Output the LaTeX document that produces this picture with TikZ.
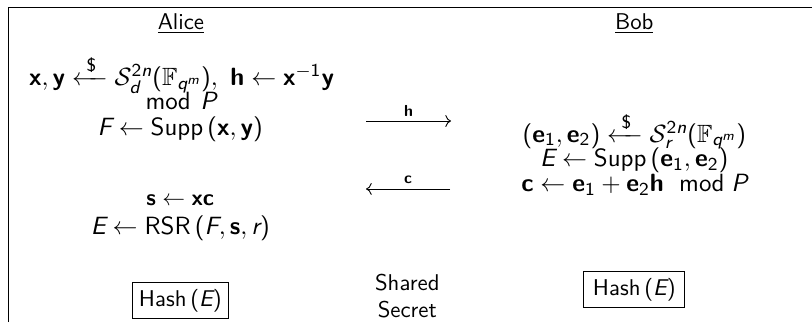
\documentclass[tikz,border=0pt]{standalone}
\usepackage{amsmath}
\usepackage{amssymb}
\renewcommand{\familydefault}{\sfdefault}
% sans serif math
\makeatletter
\DeclareSymbolFont{sfletters}{TU}{lmss}{m}{sl}
\SetSymbolFont{sfletters}{bold}{TU}{lmss}{bx}{sl}
\DeclareSymbolFont{operators}{TU}{lmss}{m}{n}
\SetSymbolFont{operators}{bold}{TU}{lmss}{bx}{n}
\DeclareMathAlphabet{\mathbf}{TU}{lmss}{bx}{n}
\DeclareMathAlphabet{\mathrm}{TU}{lmss}{m}{n}
\@tfor\sfl@tter:=abcdefghijklmnopqrstuvwxyzABCDEFGHIJKLMNOPQRSTUVWXYZ\do{%
    \edef\sfl@do{\noexpand\DeclareMathSymbol{\sfl@tter}{\noexpand\mathalpha}{sfletters}{`\sfl@tter}}%
    \sfl@do}
\makeatother
\usepackage{tikz}
\usetikzlibrary{positioning, arrows.meta, calc}

\begin{document}
\begin{tikzpicture}
    \tikzset{
        party/.style={anchor=center, inner sep=1pt},
        step line/.style={anchor=center, inner sep=0pt, font=\fontsize{10.95}{13.6}\selectfont},
        hash box/.style={draw, thin, inner sep=3pt, anchor=center},
        msg/.style={->, thin}
    }
    \useasboundingbox (0, 0) rectangle (12.52, 4.965);

    % frame (cut at the right and at the bottom)
    \draw[thin] (0.123, 0) -- (0.123, 4.857) -- (12.52, 4.857);

    % parties
    \node[party] (alice) at (2.79, 4.595) {\underline{Alice}};
    \node[party] (bob) at (9.78, 4.595) {\underline{Bob}};

    % Alice
    \node[step line] (keygen) at (2.8, 3.82) {$\mathbf{x},\mathbf{y}\xleftarrow{\;\$\;}\mathcal{S}^{2n}_{d}(\mathbb{F}_{q^m}),\ \mathbf{h}\leftarrow\mathbf{x}^{-1}\mathbf{y}$};
    \node[step line] (modp) at (2.78, 3.41) {$\bmod\ P$};
    \node[step line] (suppF) at (2.78, 2.97) {$F\leftarrow\operatorname{Supp}\,(\mathbf{x},\mathbf{y})$};
    \node[anchor=center, inner sep=0pt] (syn) at (2.78, 1.88) {$\mathbf{s}\leftarrow\mathbf{x}\mathbf{c}$};
    \node[step line] (rsr) at (2.78, 1.45) {$E\leftarrow\operatorname{RSR}\,(F,\mathbf{s},r)$};
    \node[hash box] (hashA) at (2.78, 0.33) {$\operatorname{Hash}\,(E)$};

    % Bob
    \node[step line] (errgen) at (9.78, 2.95) {$(\mathbf{e}_1,\mathbf{e}_2)\xleftarrow{\;\$\;}\mathcal{S}^{2n}_{r}(\mathbb{F}_{q^m})$};
    \node[step line] (suppE) at (9.78, 2.49) {$E\leftarrow\operatorname{Supp}\,(\mathbf{e}_1,\mathbf{e}_2)$};
    \node[step line] (encap) at (9.78, 2.11) {$\mathbf{c}\leftarrow\mathbf{e}_1+\mathbf{e}_2\mathbf{h}\ \bmod P$};
    \node[hash box, inner xsep=4pt] (hashB) at (9.78, 0.50) {$\operatorname{Hash}\,(E)$};

    % messages
    \coordinate (hL) at (5.644, 3.099);
    \coordinate (hR) at (6.954, 3.099);
    \coordinate (cL) at (5.644, 2.051);
    \coordinate (cR) at (6.94, 2.051);
    \draw[msg] (hL) -- node[above, inner sep=2pt] (hlabel) {$\scriptstyle\mathbf{h}$} (hR);
    \draw[msg] (cR) -- node[above, inner sep=2pt] (clabel) {$\scriptstyle\mathbf{c}$} (cL);

    \node[align=center, anchor=center] (secret) at (6.28, 0.40) {Shared\\Secret};
\end{tikzpicture}
\end{document}
